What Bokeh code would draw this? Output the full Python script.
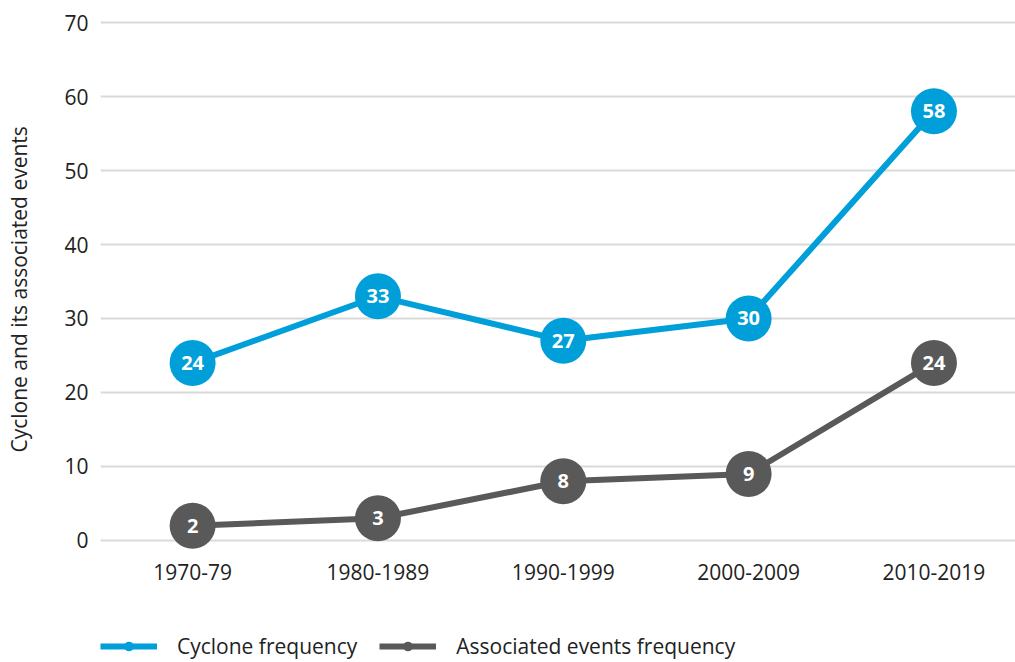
from bokeh.plotting import figure
from bokeh.models import (Range1d, FixedTicker, ColumnDataSource, Legend, LegendItem, Title)
from bokeh.core.properties import value
from bokeh.embed import file_html
from bokeh.resources import INLINE

categories = ["1970-79", "1980-1989", "1990-1999", "2000-2009", "2010-2019"]
cyclone = [24, 33, 27, 30, 58]
associated = [2, 3, 8, 9, 24]
y_ticks = [0, 10, 20, 30, 40, 50, 60, 70]
y_title = "Cyclone and its associated events"

BLUE = "#009FDA"
GRAY = "#595959"
FONT = "Open Sans"
TXT = "#222222"

xs = list(range(len(categories)))

p = figure(width=1015, height=662, output_backend="svg", toolbar_location=None,
           x_range=Range1d(-0.497, 4.44), y_range=Range1d(-16.49, 72.03),
           min_border_left=100, min_border_right=0, min_border_top=7, min_border_bottom=0)
p.outline_line_color = None
p.background_fill_color = "white"
p.border_fill_color = "white"

# y axis
p.yaxis.ticker = FixedTicker(ticks=y_ticks)
p.yaxis.axis_line_color = None
p.yaxis.major_tick_line_color = None
p.yaxis.minor_tick_line_color = None
p.yaxis.major_label_text_font = FONT
p.yaxis.major_label_text_font_size = "21px"
p.yaxis.major_label_text_color = TXT
p.yaxis.major_label_standoff = 6
# blank spacer label to push the title further left
p.yaxis.axis_label = " "
p.yaxis.axis_label_text_font_size = "2px"
p.yaxis.axis_label_standoff = 22

# y title centred on the 0-70 band
p.add_layout(Title(text=y_title, align="left", offset=210, standoff=4,
                   text_font=FONT, text_font_size="21px", text_font_style="normal",
                   text_color=TXT), "left")

p.xaxis.visible = False
p.xgrid.grid_line_color = None
p.ygrid.ticker = FixedTicker(ticks=y_ticks)
p.ygrid.grid_line_color = "#D9D9D9"
p.ygrid.grid_line_width = 2

# category labels along the baseline (y = 0)
src_x = ColumnDataSource(dict(x=xs, y=[0] * len(xs), t=categories))
p.text("x", "y", text="t", source=src_x, text_color=TXT, text_font=value(FONT),
       text_font_size="21px", text_align="center", text_baseline="middle", y_offset=32)

src_c = ColumnDataSource(dict(x=xs, y=cyclone, t=[str(v) for v in cyclone]))
src_a = ColumnDataSource(dict(x=xs, y=associated, t=[str(v) for v in associated]))

p.line("x", "y", source=src_a, line_color=GRAY, line_width=6)
p.scatter("x", "y", source=src_a, size=46, fill_color=GRAY, line_color=None)
p.text("x", "y", text="t", source=src_a, text_color="white", text_font=value(FONT),
       text_font_size="20px", text_font_style="bold", text_align="center", text_baseline="middle")

p.line("x", "y", source=src_c, line_color=BLUE, line_width=6)
p.scatter("x", "y", source=src_c, size=46, fill_color=BLUE, line_color=None)
p.text("x", "y", text="t", source=src_c, text_color="white", text_font=value(FONT),
       text_font_size="20px", text_font_style="bold", text_align="center", text_baseline="middle")

# legend proxies (off-range, so only the legend shows them)
off = [-20, -19]
lcl = p.line(x=off, y=[0, 0], line_color=BLUE, line_width=6)
dc = p.scatter(x=off[:1], y=[0], size=12, fill_color=BLUE, line_color=None)
lal = p.line(x=off, y=[0, 0], line_color=GRAY, line_width=6)
da = p.scatter(x=off[:1], y=[0], size=12, fill_color=GRAY, line_color=None)

legend = Legend(items=[LegendItem(label="Cyclone frequency", renderers=[lcl, dc]),
                       LegendItem(label="Associated events frequency", renderers=[lal, da])],
                orientation="horizontal", location=(0, 2),
                glyph_width=57, glyph_height=24, label_standoff=20, spacing=22,
                padding=0, margin=0, border_line_color=None, background_fill_alpha=0,
                label_text_font=FONT, label_text_font_size="21px", label_text_color=TXT)
p.add_layout(legend, "center")

open("out.html", "w").write(file_html(p, INLINE))
